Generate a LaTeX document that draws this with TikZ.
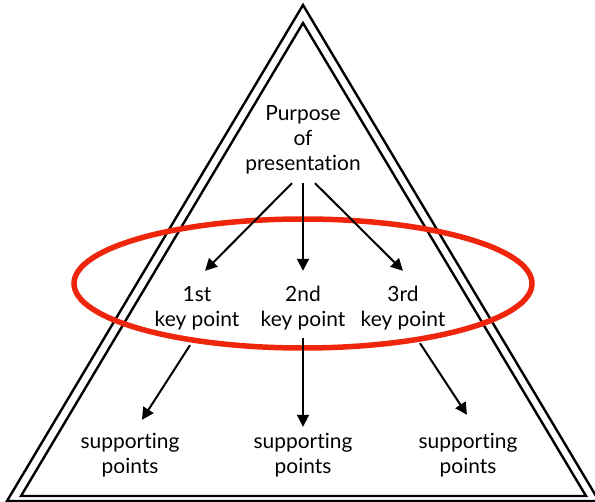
\documentclass[tikz,border=0pt]{standalone}
\usepackage{fontspec}
\setmainfont{Lato}[Ligatures=NoCommon]
\usetikzlibrary{arrows.meta}
\definecolor{ringred}{RGB}{240,38,12}
\tikzset{
  frame/.style={draw=black, line width=2.4bp, line join=miter},
  ring/.style={draw=ringred, line width=5.5bp},
  label/.style={align=center, inner sep=0pt, font=\fontsize{21}{25}\selectfont},
  keybox/.style={label, minimum height=74bp},
  arr/.style={draw=black, line width=2bp, -{Triangle[length=12bp,width=12bp]}},
}
\begin{document}
\begin{tikzpicture}[x=1bp, y=-1bp]
  \useasboundingbox (0,0) rectangle (595,502);
  % double-lined triangle
  \draw[frame] (303,5) -- (599,501) -- (7,501) -- cycle;
  \draw[frame] (303,23) -- (586,496) -- (21,496) -- cycle;
  % text blocks
  \node[label, minimum height=86bp] (purpose) at (303,140) {Purpose\\of\\presentation};
  \node[keybox] (kp1) at (197,308) {1st\\key point};
  \node[keybox] (kp2) at (303,308) {2nd\\key point};
  \node[keybox] (kp3) at (403,308) {3rd\\key point};
  \node[label, minimum height=70bp] (sp1) at (130,455) {supporting\\points};
  \node[label, minimum height=70bp] (sp2) at (303,455) {supporting\\points};
  \node[label, minimum height=70bp] (sp3) at (468,455) {supporting\\points};
  % red ellipse around the key points
  \draw[ring] (303,283.5) ellipse [x radius=229, y radius=64.5];
  % arrows from the purpose to the key points
  \draw[arr] ([xshift=-11bp]purpose.south) -- ([xshift=8bp]kp1.north);
  \draw[arr] (purpose.south) -- (kp2.north);
  \draw[arr] ([xshift=12bp]purpose.south) -- (kp3.north);
  % arrows from the key points to the supporting points
  \draw[arr] ([xshift=-7bp]kp1.south) -- ([xshift=12bp]sp1.north);
  \draw[arr] ([yshift=7bp]kp2.south) -- ([yshift=-7bp]sp2.north);
  \draw[arr] ([xshift=17bp,yshift=2bp]kp3.south) -- ([xshift=-1bp,yshift=5bp]sp3.north);
\end{tikzpicture}
\end{document}
